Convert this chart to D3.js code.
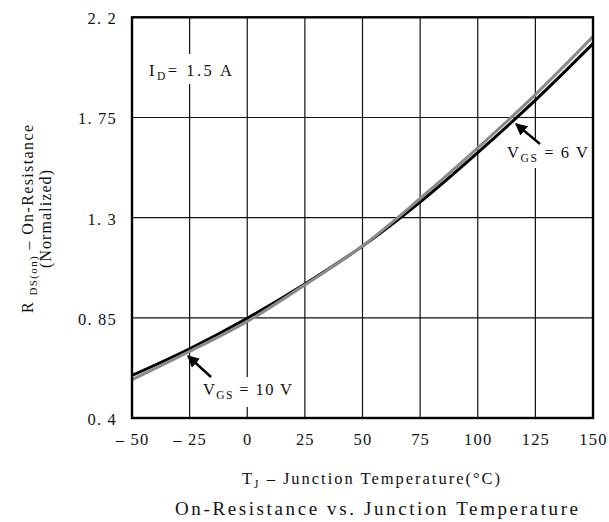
<!DOCTYPE html>
<html><head><meta charset="utf-8">
<script src="https://cdn.jsdelivr.net/npm/d3@7"></script>
<style>
body{margin:0;background:#fff}
svg{display:block}
text{font-family:"Liberation Serif","DejaVu Serif",serif;fill:#111}
</style>
</head><body>
<svg id="c" width="609" height="522"></svg>
<script>
const temps    = [-50, -25, 0, 25, 50, 75, 100, 125, 150];
const rdsVgs6  = [0.591, 0.711, 0.848, 1.002, 1.172, 1.370, 1.592, 1.828, 2.082];
const rdsVgs10 = [0.572, 0.699, 0.834, 0.998, 1.173, 1.386, 1.613, 1.853, 2.113];
const xTicks = [-50, -25, 0, 25, 50, 75, 100, 125, 150];
const yTicks = [0.4, 0.85, 1.3, 1.75, 2.2];

const svg = d3.select("#c");
const L = 132, R = 593, T = 17.3, B = 418;
const x = d3.scaleLinear().domain([-50, 150]).range([L, R]);
const y = d3.scaleLinear().domain([0.4, 2.2]).range([B, T]);

// grid
const g = svg.append("g");
g.selectAll("line.v").data(xTicks.slice(1, -1)).join("line")
  .attr("x1", d => x(d)).attr("x2", d => x(d)).attr("y1", T).attr("y2", B)
  .attr("stroke", "#111").attr("stroke-width", 1.2);
g.selectAll("line.h").data(yTicks.slice(1, -1)).join("line")
  .attr("y1", d => y(d)).attr("y2", d => y(d)).attr("x1", L).attr("x2", R)
  .attr("stroke", "#111").attr("stroke-width", 1.2);

// white label boxes (break grid lines)
const boxes = [[145, 54, 93, 30], [198, 377, 100, 30], [503, 140, 88, 28]];
svg.selectAll("rect.box").data(boxes).join("rect")
  .attr("x", d => d[0]).attr("y", d => d[1]).attr("width", d => d[2]).attr("height", d => d[3])
  .attr("fill", "#fff");

// curves
svg.append("clipPath").attr("id", "clip").append("rect")
  .attr("x", L).attr("y", T).attr("width", R - L).attr("height", B - T);
const line = d3.line().x(d => x(d[0])).y(d => y(d[1])).curve(d3.curveCatmullRom.alpha(0.5));
const cg = svg.append("g").attr("clip-path", "url(#clip)");
cg.append("path").datum(temps.map((t, i) => [t, rdsVgs6[i]]))
  .attr("d", line).attr("fill", "none").attr("stroke", "#000").attr("stroke-width", 3);
cg.append("path").datum(temps.map((t, i) => [t, rdsVgs10[i]]))
  .attr("d", line).attr("fill", "none").attr("stroke", "#8a8a8a").attr("stroke-width", 3);

// border
svg.append("rect").attr("x", L).attr("y", T).attr("width", R - L).attr("height", B - T)
  .attr("fill", "none").attr("stroke", "#000").attr("stroke-width", 2.4);

// axes tick labels
const xAxis = d3.axisBottom(x).tickValues(xTicks).tickSize(0).tickPadding(0)
  .tickFormat(d => d < 0 ? "\u2013 " + Math.abs(d) : String(d));
const xa = svg.append("g").attr("transform", `translate(0,${B})`).call(xAxis);
xa.select(".domain").remove();
xa.selectAll("text").attr("y", 27).attr("dy", 0).attr("font-size", 16.5)
  .attr("font-family", "Liberation Serif").attr("fill", "#111").attr("letter-spacing", 1.2);

const yAxis = d3.axisLeft(y).tickValues(yTicks).tickSize(0).tickPadding(0)
  .tickFormat(d => String(d).replace(".", ". "));
const ya = svg.append("g").attr("transform", `translate(${L},0)`).call(yAxis);
ya.select(".domain").remove();
ya.selectAll("text").attr("x", -15).attr("dy", 6.5).attr("font-size", 16.5)
  .attr("font-family", "Liberation Serif").attr("fill", "#111").attr("letter-spacing", 1.2);

// helper for subscript text
function subText(px, py, main, sub, rest, fs, len) {
  const t = svg.append("text").attr("x", px).attr("y", py).attr("font-size", fs)
    .attr("textLength", len).attr("lengthAdjust", "spacing");
  t.append("tspan").text(main);
  t.append("tspan").attr("font-size", fs * 0.7).attr("dy", 4).text(sub);
  t.append("tspan").attr("dy", -4).text(rest);
  return t;
}

subText(149, 76, "I", "D", "= 1.5 A", 16.5, 83);
subText(203, 395, "V", "GS", " = 10 V", 16.5, 89);
subText(507, 158, "V", "GS", " = 6 V", 16.5, 81);

// x axis title
const xt = svg.append("text").attr("x", 242).attr("y", 484).attr("font-size", 16.5)
  .attr("textLength", 258).attr("lengthAdjust", "spacing");
xt.append("tspan").text("T");
xt.append("tspan").attr("font-size", 11.5).attr("dy", 4).text("J");
xt.append("tspan").attr("dy", -4).text(" \u2013 Junction Temperature(°C)");

// y axis title
const yt = svg.append("text").attr("transform", "translate(33,313) rotate(-90)")
  .attr("font-size", 16).attr("textLength", 188).attr("lengthAdjust", "spacing");
yt.append("tspan").text("R ");
yt.append("tspan").attr("font-size", 11).attr("dy", 4).text("DS(on)");
yt.append("tspan").attr("dy", -4).text(" \u2013 On-Resistance");
svg.append("text").attr("transform", "translate(51,268) rotate(-90)")
  .attr("font-size", 16).attr("textLength", 98).attr("lengthAdjust", "spacing").text("(Normalized)");

// chart title
svg.append("text").attr("x", 175).attr("y", 515)
  .attr("font-size", 19).attr("textLength", 403).attr("lengthAdjust", "spacing")
  .text("On-Resistance vs. Junction Temperature");

// arrows
const defs = svg.append("defs");
defs.append("marker").attr("id", "ah").attr("viewBox", "0 0 10 10").attr("refX", 9).attr("refY", 5)
  .attr("markerWidth", 5).attr("markerHeight", 5).attr("markerUnits", "strokeWidth").attr("orient", "auto")
  .append("path").attr("d", "M0,0 L10,5 L0,10 Z").attr("fill", "#000");
const arrows = [[211, 377, 188, 356], [540, 144, 516, 124]];
svg.selectAll("line.arr").data(arrows).join("line")
  .attr("x1", d => d[0]).attr("y1", d => d[1]).attr("x2", d => d[2]).attr("y2", d => d[3])
  .attr("stroke", "#000").attr("stroke-width", 2.4).attr("marker-end", "url(#ah)");
</script>
</body></html>
